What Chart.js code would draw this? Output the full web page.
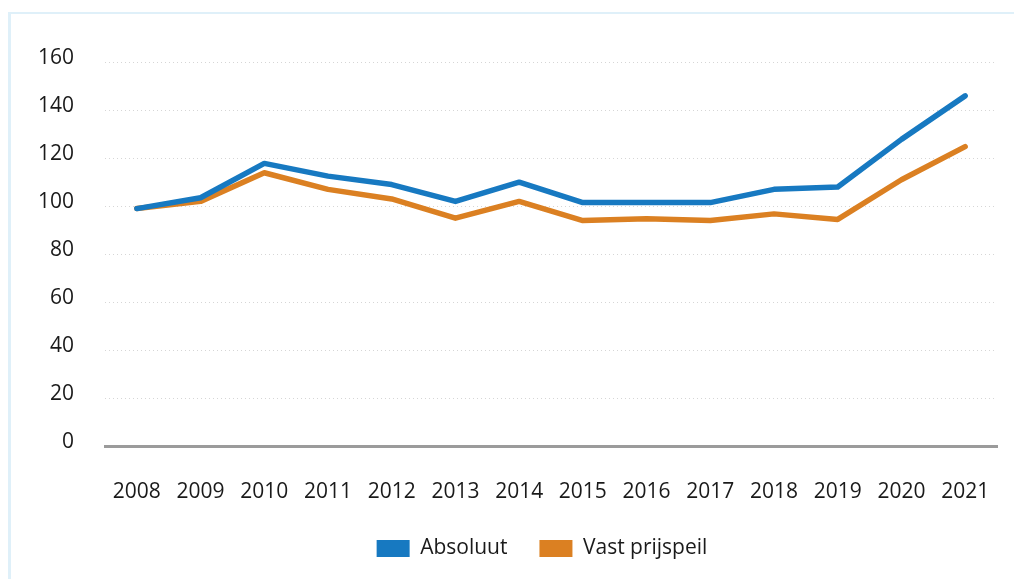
<!DOCTYPE html>
<html>
<head>
<meta charset="utf-8">
<script src="https://cdn.jsdelivr.net/npm/chart.js@4.4.1/dist/chart.umd.min.js"></script>
<style>
  html, body { margin: 0; padding: 0; background: #ffffff; }
  #wrap { position: relative; width: 1014px; height: 579px; overflow: hidden; }
  #frame { position: absolute; left: 8px; top: 12px; width: 1020px; height: 600px;
           border-left: 3px solid #dff0f9; border-top: 2px solid #dff0f9; box-sizing: border-box; }
  #c { position: absolute; left: 0; top: 0; }
</style>
</head>
<body>
<div id="wrap">
  <div id="frame"></div>
  <canvas id="c" width="1014" height="579"></canvas>
</div>
<script>
const years = ['2008','2009','2010','2011','2012','2013','2014','2015','2016','2017','2018','2019','2020','2021'];
const absoluut = [99, 103.5, 117.8, 112.5, 109, 102, 110, 101.5, 101.5, 101.5, 107, 108, 127.8, 145.9];
const vastPrijspeil = [99, 102, 113.9, 107, 103, 95, 102, 94, 94.8, 94, 96.8, 94.5, 111, 124.8];
const seriesNames = ['Absoluut', 'Vast prijspeil'];
const yTicks = { min: 0, max: 160, step: 20 };

const FONT = "'Open Sans', 'Noto Sans', sans-serif";
const BLUE = '#1779c1';
const ORANGE = '#db8022';

const legendShift = {
  id: 'legendShift',
  afterLayout(chart) {
    if (chart.legend) { chart.legend.left += 50; }
  }
};

new Chart(document.getElementById('c'), {
  type: 'line',
  data: {
    labels: years,
    datasets: [
      { label: seriesNames[0], data: absoluut, borderColor: BLUE, backgroundColor: BLUE,
        borderWidth: 5.5, pointRadius: 0, tension: 0, borderJoinStyle: 'round', borderCapStyle: 'round' },
      { label: seriesNames[1], data: vastPrijspeil, borderColor: ORANGE, backgroundColor: ORANGE,
        borderWidth: 5.5, pointRadius: 0, tension: 0, borderJoinStyle: 'round', borderCapStyle: 'round' }
    ]
  },
  plugins: [legendShift],
  options: {
    responsive: false,
    animation: false,
    layout: { padding: { left: 37, right: 17, top: 62, bottom: 10 } },
    plugins: {
      tooltip: { enabled: false },
      legend: {
        position: 'bottom',
        labels: {
          boxWidth: 33, boxHeight: 17, padding: 32,
          color: '#1a1a1a',
          font: { family: FONT, size: 21 },
          generateLabels(chart) {
            const items = Chart.defaults.plugins.legend.labels.generateLabels(chart);
            items.forEach(it => { it.lineWidth = 0; it.strokeStyle = 'rgba(0,0,0,0)'; });
            return items;
          }
        }
      }
    },
    scales: {
      x: {
        offset: true,
        afterFit(scale) { scale.height = 59.5; scale.paddingLeft = 0; scale.paddingRight = 0; },
        grid: { display: false, drawTicks: false },
        border: { display: true, color: '#9b9b9b', width: 3 },
        ticks: { color: '#1a1a1a', font: { family: FONT, size: 21 }, padding: 33, maxRotation: 0, autoSkip: false }
      },
      y: {
        min: yTicks.min, max: yTicks.max,
        afterFit(scale) { scale.width = 68; },
        grid: { color: '#d6d6d6', lineWidth: 1, drawTicks: false },
        border: { display: false, dash: [1, 3] },
        ticks: { stepSize: yTicks.step, color: '#1a1a1a', font: { family: FONT, size: 21 }, padding: 31, labelOffset: -4 }
      }
    }
  }
});
</script>
</body>
</html>
